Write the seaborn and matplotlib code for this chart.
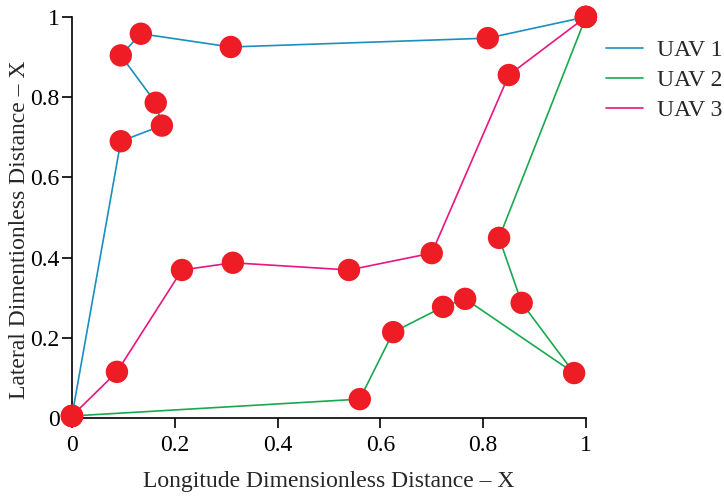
import matplotlib
matplotlib.use("Agg")
import matplotlib.pyplot as plt
import seaborn as sns
import pandas as pd

# Waypoints of each UAV route (dimensionless longitude / lateral distance)
uav1_x = [0.0, 0.095, 0.175, 0.163, 0.095, 0.134, 0.309, 0.809, 1.0]
uav1_y = [0.005, 0.690, 0.729, 0.786, 0.904, 0.958, 0.925, 0.947, 1.0]

uav2_x = [0.0, 0.560, 0.625, 0.722, 0.765, 0.977, 0.875, 0.831, 1.0]
uav2_y = [0.005, 0.047, 0.214, 0.277, 0.297, 0.112, 0.287, 0.449, 1.0]

uav3_x = [0.0, 0.0875, 0.214, 0.313, 0.539, 0.700, 0.850, 1.0]
uav3_y = [0.005, 0.115, 0.369, 0.387, 0.369, 0.411, 0.855, 1.0]

labels = ["UAV 1", "UAV 2", "UAV 3"]
colors = ["#1a8fc0", "#1aa84f", "#e8167f"]

frames = []
for name, xs, ys in zip(labels, [uav1_x, uav2_x, uav3_x], [uav1_y, uav2_y, uav3_y]):
    frames.append(pd.DataFrame({"x": xs, "y": ys, "route": name, "step": range(len(xs))}))
df = pd.concat(frames, ignore_index=True)

sns.set_style("ticks")
plt.rcParams["font.family"] = ["Liberation Serif", "DejaVu Serif"]

fig = plt.figure(figsize=(7.24, 4.97), dpi=100)
ax = fig.add_axes([0.0994, 0.159, 0.7099, 0.807])

sns.lineplot(data=df, x="x", y="y", hue="route", palette=colors, sort=False,
             estimator=None, units="route", linewidth=1.2, ax=ax, zorder=2)
sns.scatterplot(data=df, x="x", y="y", color="#ee1c25", s=260, edgecolor="none",
                legend=False, ax=ax, zorder=3, clip_on=False)

ax.set_xlim(0, 1)
ax.set_ylim(0, 1)
ticks = [0, 0.2, 0.4, 0.6, 0.8, 1]
tick_labels = ["0", "0.2", "0.4", "0.6", "0.8", "1"]
ax.set_xticks(ticks)
ax.set_xticklabels(tick_labels)
ax.set_yticks(ticks)
ax.set_yticklabels(tick_labels)
ax.tick_params(labelsize=17, length=7, width=1.2, color="black", labelcolor="black")
ax.tick_params(axis="x", pad=5)
ax.tick_params(axis="y", pad=2)
for side in ["left", "bottom"]:
    ax.spines[side].set_linewidth(1.2)
    ax.spines[side].set_color("black")
sns.despine(ax=ax)

ax.set_xlabel("Longitude Dimensionless Distance – X", fontsize=17, labelpad=11)
ax.set_ylabel("Lateral Dimentionless Distance – X", fontsize=17)
ax.yaxis.set_label_coords(-0.082, 0.47)

leg = ax.legend(loc="upper left", bbox_to_anchor=(1.039, 0.943), frameon=False,
                fontsize=17, handlelength=1.57, handletextpad=0.6,
                labelspacing=0.35, borderpad=0, borderaxespad=0)

fig.savefig("out.png", dpi=100)
